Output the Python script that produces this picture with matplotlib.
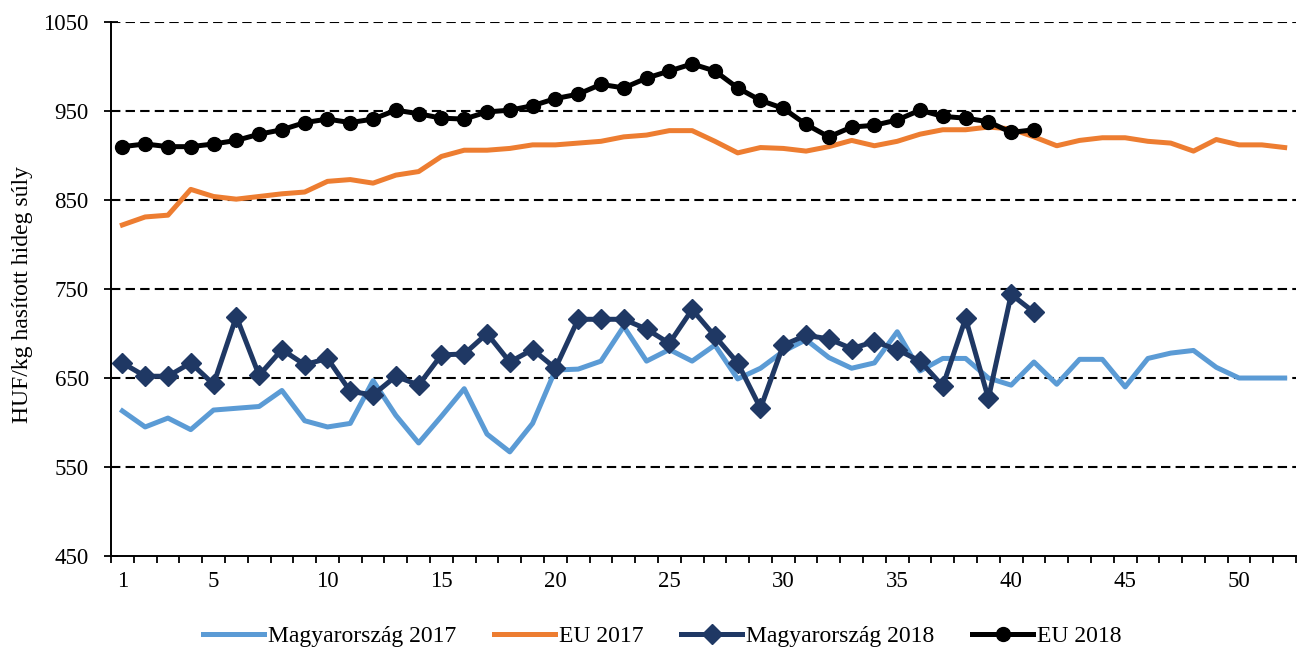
import numpy as np
import matplotlib
matplotlib.use("Agg")
from matplotlib import pyplot as plt
from matplotlib.ticker import FixedLocator

plt.rcParams['font.family'] = ['Liberation Serif', 'DejaVu Serif']

weeks = list(range(1, 53))
hu_2017 = [613, 595, 605, 592, 614, 616, 618, 636, 602, 595, 599, 647, 608, 577, 607, 638,
           587, 567, 599, 659, 660, 669, 708, 669, 682, 669, 687, 649, 661, 680, 693, 673,
           661, 667, 702, 658, 672, 672, 650, 642, 668, 643, 671, 671, 640, 672, 678, 681,
           662, 650, 650, 650]
eu_2017 = [822, 831, 833, 862, 854, 851, 854, 857, 859, 871, 873, 869, 878, 882, 899, 906,
           906, 908, 912, 912, 914, 916, 921, 923, 928, 928, 916, 903, 909, 908, 905, 910,
           917, 911, 916, 924, 929, 929, 932, 930, 921, 911, 917, 920, 920, 916, 914, 905,
           918, 912, 912, 909]
hu_2018 = [667, 652, 652, 667, 643, 719, 653, 682, 665, 672, 635, 631, 652, 642, 676, 677,
           700, 668, 682, 661, 716, 716, 716, 705, 689, 727, 697, 667, 616, 687, 698, 694,
           683, 691, 682, 669, 641, 717, 627, 744, 724]
eu_2018 = [910, 913, 910, 910, 913, 917, 924, 929, 937, 941, 937, 941, 951, 947, 942, 941,
           949, 951, 956, 964, 969, 980, 976, 987, 995, 1003, 995, 976, 962, 953, 935, 921,
           932, 934, 940, 951, 944, 942, 938, 926, 929]
x_labels = [1, 5, 10, 15, 20, 25, 30, 35, 40, 45, 50]
y_ticks = [450, 550, 650, 750, 850, 950, 1050]

fig = plt.figure(figsize=(12.98, 6.49), dpi=100)
ax = fig.add_axes([0.0855, 0.1433, 0.913, 0.8227])

ax.plot(weeks, hu_2017, color='#5B9BD5', lw=3.6, label='Magyarország 2017', zorder=3)
ax.plot(weeks, eu_2017, color='#ED7D31', lw=3.6, label='EU 2017', zorder=3)
ax.plot(weeks[:len(hu_2018)], hu_2018, color='#1F3864', lw=3.6, marker='D', ms=10.5,
        label='Magyarország 2018', zorder=4)
ax.plot(weeks[:len(eu_2018)], eu_2018, color='black', lw=3.6, marker='o', ms=10,
        label='EU 2018', zorder=5)

ax.set_xlim(0.5, 52.5)
ax.set_ylim(450, 1050)
ax.yaxis.set_major_locator(FixedLocator(y_ticks))
for v in y_ticks[1:]:
    ax.axhline(v, color='black', lw=1.5, ls=(0, (4.5, 2.5)), zorder=1)

ax.xaxis.set_major_locator(FixedLocator(x_labels))
ax.xaxis.set_minor_locator(FixedLocator(np.arange(0.5, 53, 1)))
ax.tick_params(axis='x', which='major', length=0, pad=11, labelsize=16.5)
ax.tick_params(axis='x', which='minor', length=5, width=1.3, direction='out')
ax.tick_params(axis='y', which='major', length=10, width=1.3, direction='inout',
               pad=11, labelsize=16.5)

for s in ['top', 'right']:
    ax.spines[s].set_visible(False)
for s in ['left', 'bottom']:
    ax.spines[s].set_linewidth(1.4)

ax.set_ylabel('HUF/kg hasított hideg súly', fontsize=17)
ax.yaxis.set_label_coords(-0.066, 0.49)

fig.legend(loc='center', bbox_to_anchor=(0.51, 0.02), ncol=4, frameon=False,
           fontsize=17, handlelength=2.6, columnspacing=1.6, handletextpad=0.15)

fig.savefig('out.png', dpi=100)
